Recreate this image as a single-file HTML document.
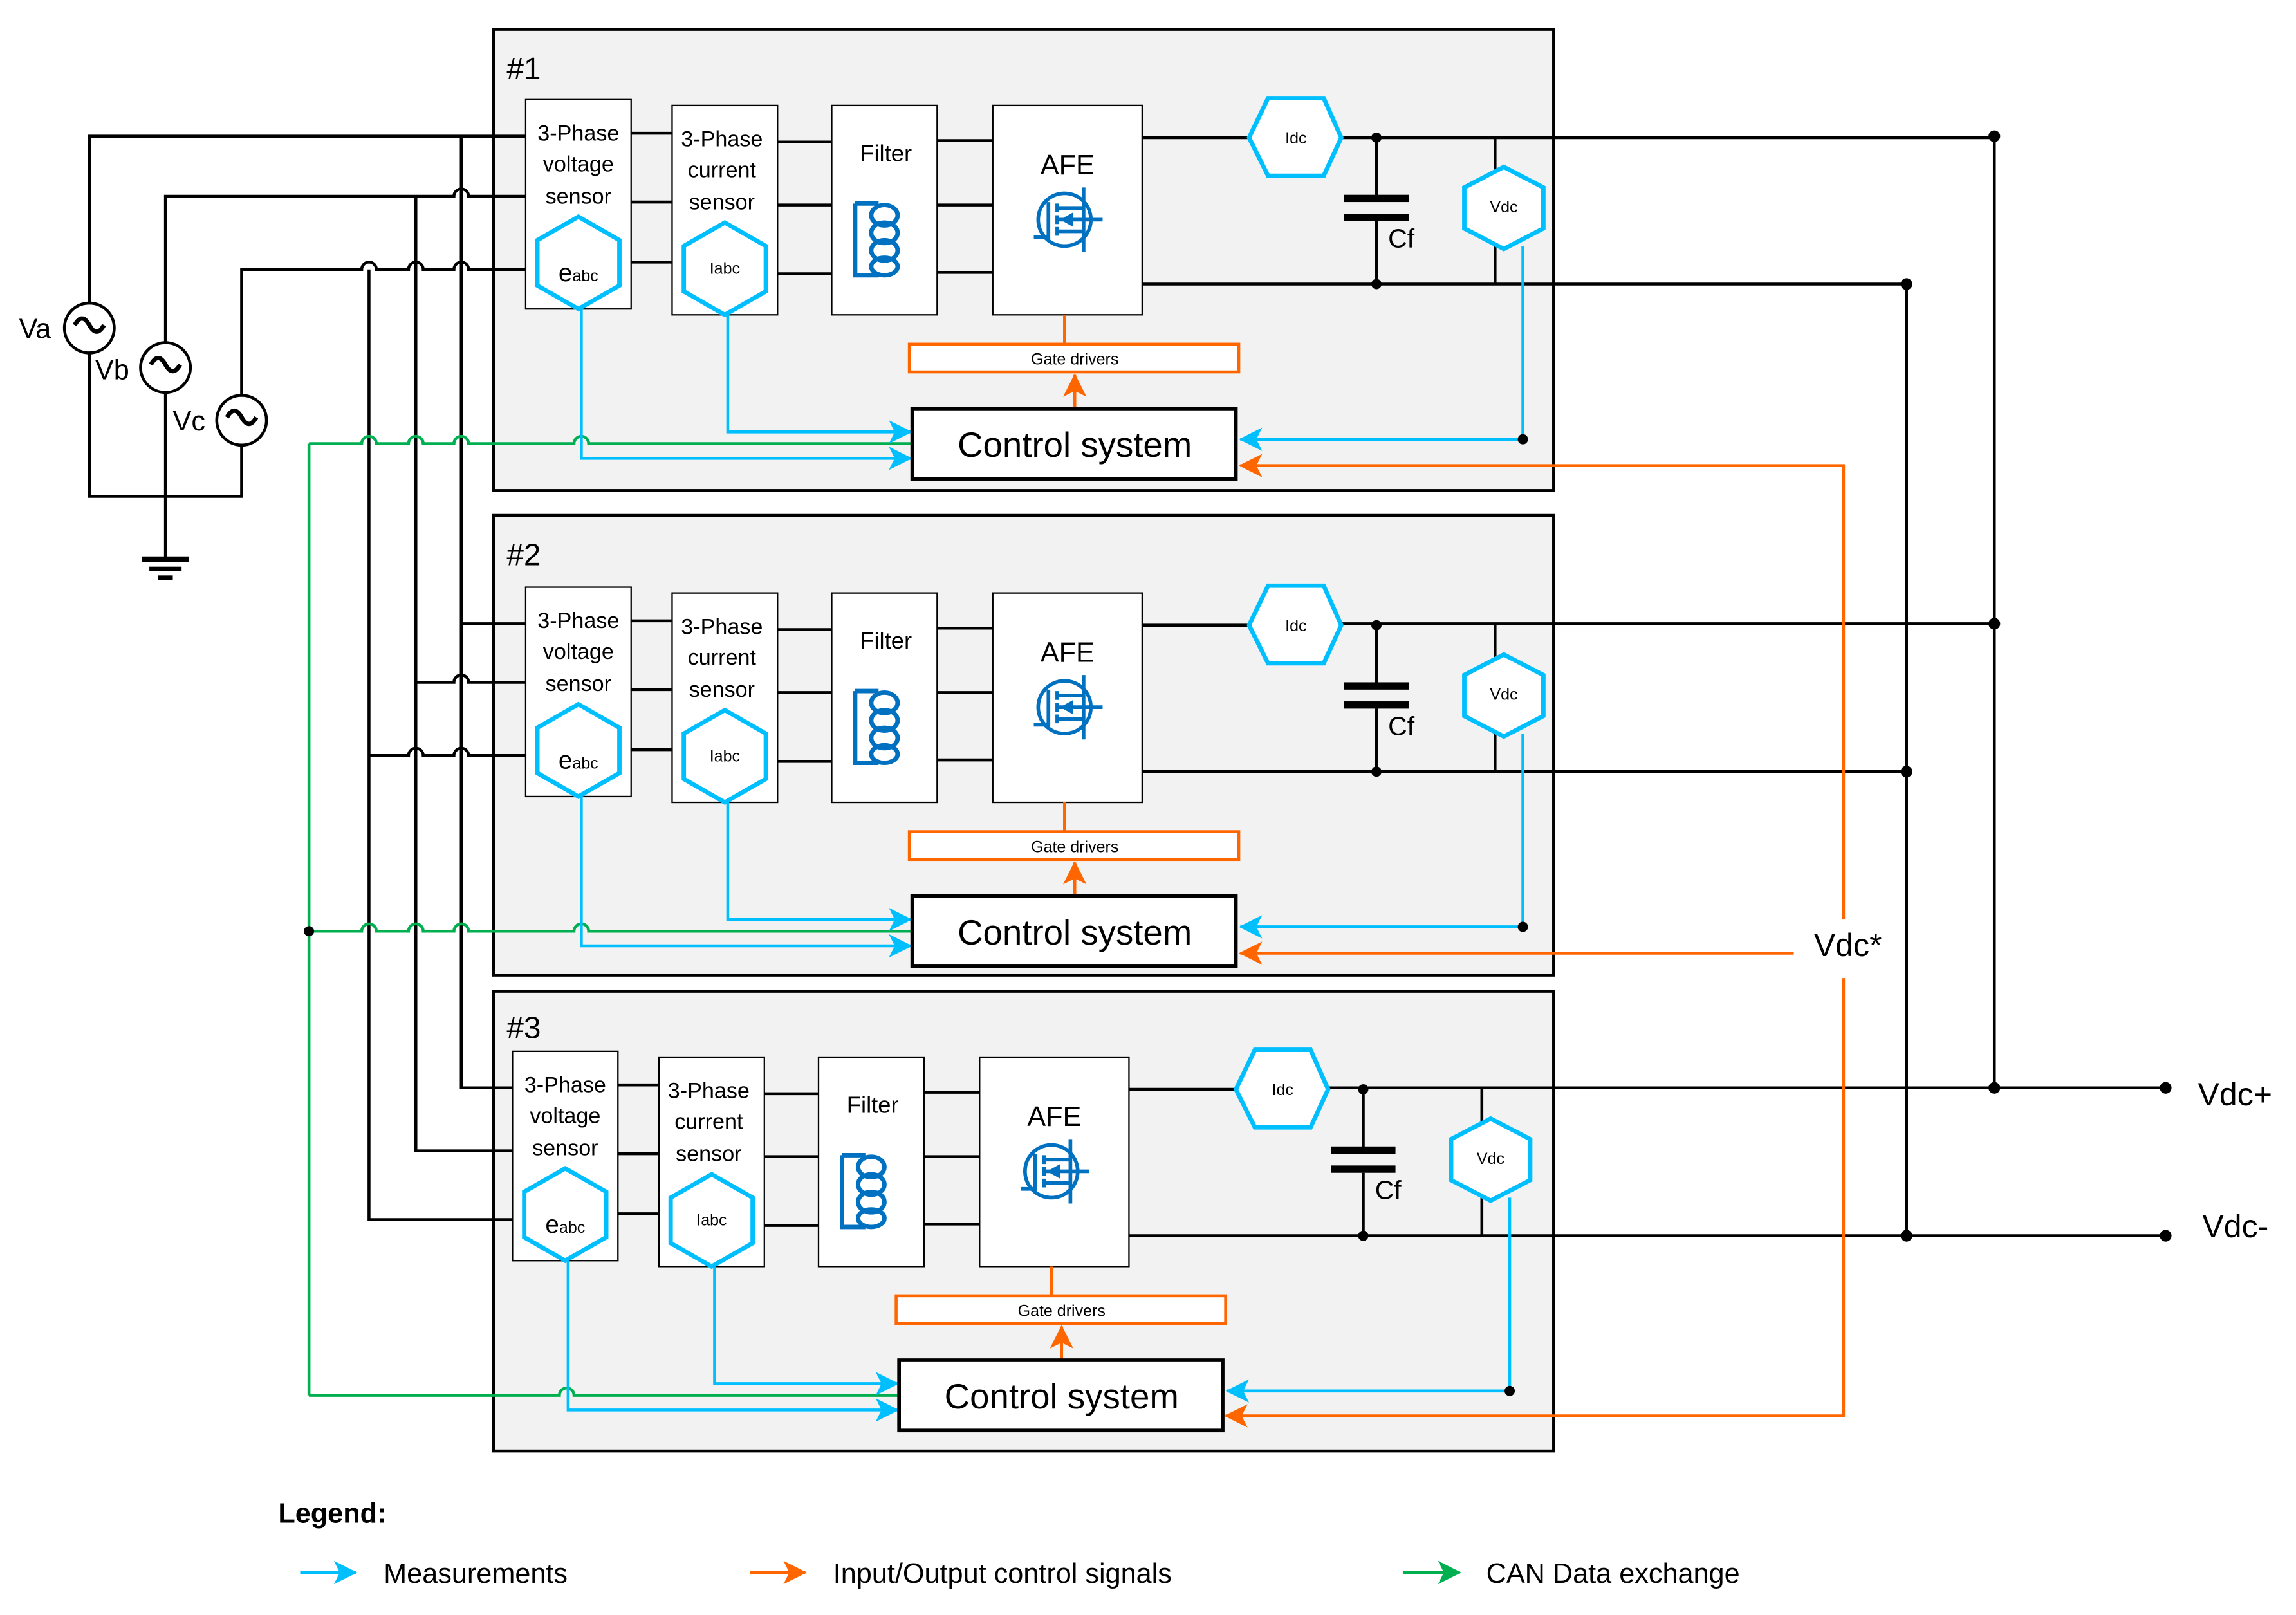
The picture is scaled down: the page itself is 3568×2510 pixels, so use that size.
<!DOCTYPE html>
<html><head><meta charset="utf-8"><style>
html,body{margin:0;padding:0;background:#fff;}
svg{display:block;}
text{font-family:"Liberation Sans",sans-serif;fill:#000;}
</style></head><body>
<svg width="3568" height="2510" viewBox="0 0 1568 1103" xmlns="http://www.w3.org/2000/svg">
<defs>
<marker id="ab" markerWidth="16" markerHeight="16" refX="15" refY="8" orient="auto" markerUnits="userSpaceOnUse"><path d="M0,0 L16,8 L0,16 L4,8 z" fill="#00bfff"/></marker>
<marker id="ao" markerWidth="16" markerHeight="16" refX="15" refY="8" orient="auto" markerUnits="userSpaceOnUse"><path d="M0,0 L16,8 L0,16 L4,8 z" fill="#ff6600"/></marker>
<marker id="ag" markerWidth="16" markerHeight="16" refX="15" refY="8" orient="auto" markerUnits="userSpaceOnUse"><path d="M0,0 L16,8 L0,16 L4,8 z" fill="#00b050"/></marker>
</defs>

<rect x="337" y="20" width="724" height="315" fill="#f2f2f2" stroke="#000" stroke-width="2"/>
<rect x="337" y="352" width="724" height="314" fill="#f2f2f2" stroke="#000" stroke-width="2"/>
<rect x="337" y="677" width="724" height="314" fill="#f2f2f2" stroke="#000" stroke-width="2"/>
<text x="346" y="54" font-size="21">#1</text>
<text x="346" y="386" font-size="21">#2</text>
<text x="346" y="709" font-size="21">#3</text>

<g stroke="#000" stroke-width="2" fill="none">
<path d="M61 207 V93 H359"/>
<path d="M113 234 V134 H310 A5 5 0 0 1 320 134 H359"/>
<path d="M165 270 V184 H247 A5 5 0 0 1 257 184 H279 A5 5 0 0 1 289 184 H310 A5 5 0 0 1 320 184 H359"/>
<path d="M61 241 V339 H165 V304"/>
<path d="M113 268 V381"/>
<circle cx="61" cy="224" r="17"/><circle cx="113" cy="251" r="17"/><circle cx="165" cy="287" r="17"/>
<path d="M51 222 q5 -9 10 0 t10 0" stroke-width="3"/>
<path d="M103 249 q5 -9 10 0 t10 0" stroke-width="3"/>
<path d="M155 285 q5 -9 10 0 t10 0" stroke-width="3"/>
<path d="M315 93 V743 H350"/>
<path d="M284 134 V786 H350"/>
<path d="M252 184 V833 H350"/>
<path d="M315 426 H359"/>
<path d="M284 466 H310 A5 5 0 0 1 320 466 H359"/>
<path d="M252 516 H279 A5 5 0 0 1 289 516 H310 A5 5 0 0 1 320 516 H359"/>
</g>
<rect x="97" y="380" width="32" height="4" fill="#000"/>
<rect x="102" y="387" width="22" height="3" fill="#000"/>
<rect x="108" y="393" width="10" height="3" fill="#000"/>
<text x="13" y="231" font-size="19">Va</text>
<text x="65" y="259" font-size="19">Vb</text>
<text x="118" y="294" font-size="19">Vc</text>

<g stroke="#00b050" stroke-width="2" fill="none">
<path d="M211 303 V953"/>
<path d="M211 303 H247 A5 5 0 0 1 257 303 H279 A5 5 0 0 1 289 303 H310 A5 5 0 0 1 320 303 H392 A5 5 0 0 1 402 303 H622"/>
<path d="M211 636 H247 A5 5 0 0 1 257 636 H279 A5 5 0 0 1 289 636 H310 A5 5 0 0 1 320 636 H392 A5 5 0 0 1 402 636 H622"/>
<path d="M211 953 H382 A5 5 0 0 1 392 953 H613"/>
</g>
<circle cx="211" cy="636" r="3.5" fill="#000"/>

<g stroke="#000" stroke-width="2" fill="none">
<path d="M916 94 H1362"/><path d="M780 194 H1302"/>
<path d="M916 426 H1362"/><path d="M780 527 H1302"/>
<path d="M907 743 H1479"/><path d="M771 844 H1479"/>
<path d="M1362 93 V743"/><path d="M1302 194 V844"/>
</g>
<g fill="#000">
<circle cx="1362" cy="93" r="4"/><circle cx="1302" cy="194" r="4"/>
<circle cx="1362" cy="426" r="4"/><circle cx="1302" cy="527" r="4"/>
<circle cx="1362" cy="743" r="4"/><circle cx="1302" cy="844" r="4"/>
<circle cx="1479" cy="743" r="4"/><circle cx="1479" cy="844" r="4"/>
</g>
<text x="1501" y="755" font-size="22">Vdc+</text>
<text x="1504" y="845" font-size="22">Vdc-</text>

<g stroke="#ff6600" stroke-width="2" fill="none">
<path d="M1259 628 V318 H847" marker-end="url(#ao)"/>
<path d="M1259 668 V967 H837" marker-end="url(#ao)"/>
<path d="M1225 651 H847" marker-end="url(#ao)"/>
</g>
<text x="1262" y="653" font-size="22" text-anchor="middle">Vdc*</text>

<g>
<rect x="359" y="68" width="72" height="143" fill="#fff" stroke="#000"/>
<text x="395" y="96" font-size="15" text-anchor="middle">3-Phase</text>
<text x="395" y="117" font-size="15" text-anchor="middle">voltage</text>
<text x="395" y="139" font-size="15" text-anchor="middle">sensor</text>
<polygon points="395,148 423,164 423,195 395,211 367,195 367,164" fill="#fff" stroke="#00bfff" stroke-width="3"/>
<text x="395" y="192" font-size="17" text-anchor="middle">e<tspan font-size="11">abc</tspan></text>
<rect x="459" y="72" width="72" height="143" fill="#fff" stroke="#000"/>
<text x="493" y="100" font-size="15" text-anchor="middle">3-Phase</text>
<text x="493" y="121" font-size="15" text-anchor="middle">current</text>
<text x="493" y="143" font-size="15" text-anchor="middle">sensor</text>
<polygon points="495,152 523,168 523,199 495,215 467,199 467,168" fill="#fff" stroke="#00bfff" stroke-width="3"/>
<text x="495" y="187" font-size="11" text-anchor="middle">Iabc</text>
<rect x="568" y="72" width="72" height="143" fill="#fff" stroke="#000"/>
<text x="605" y="110" font-size="16" text-anchor="middle">Filter</text>
<g stroke="#0070c0" stroke-width="3" fill="none">
<path d="M584 139 H600 M584 139 V188 H600"/>
<ellipse cx="604" cy="147" rx="9" ry="7"/><ellipse cx="604" cy="159" rx="9" ry="7"/>
<ellipse cx="604" cy="171" rx="9" ry="7"/><ellipse cx="604" cy="182" rx="9" ry="6"/>
</g>
<rect x="678" y="72" width="102" height="143" fill="#fff" stroke="#000"/>
<text x="729" y="119" font-size="19" text-anchor="middle">AFE</text>
<g stroke="#0070c0" stroke-width="2.5" fill="none">
<circle cx="727" cy="150" r="18"/>
<path d="M740 128 V172 M716 138 V162 H706 M722 139 V145 M722 147 V153 M722 155 V161 M722 142 H740 M722 158 H740 M722 150 H753"/>
</g>
<path d="M724 150 L733 145 L733 155 z" fill="#0070c0"/>
<g stroke="#000" stroke-width="2">
<path d="M431 91 H459 M431 138 H459 M431 179 H459"/>
<path d="M531 97 H568 M531 140 H568 M531 187 H568"/>
<path d="M640 96 H678 M640 140 H678 M640 186 H678"/>
<path d="M780 94 H853"/>
<path d="M940 94 V134 M940 151 V194"/>
<path d="M1021 94 V117 M1021 167 V194"/>
</g>
<rect x="918" y="133" width="44" height="5" fill="#000"/>
<rect x="918" y="146" width="44" height="5" fill="#000"/>
<text x="948" y="169" font-size="18">Cf</text>
<circle cx="940" cy="94" r="3.5" fill="#000"/><circle cx="940" cy="194" r="3.5" fill="#000"/>
<polygon points="853,94 866,67 904,67 916,94 904,120 866,120" fill="#fff" stroke="#00bfff" stroke-width="3"/>
<text x="885" y="98" font-size="11" text-anchor="middle">Idc</text>
<polygon points="1027,114 1054,128 1054,156 1027,170 1000,156 1000,128" fill="#fff" stroke="#00bfff" stroke-width="3"/>
<text x="1027" y="145" font-size="11" text-anchor="middle">Vdc</text>
<path d="M727 215 V235" stroke="#ff6600" stroke-width="2"/>
<rect x="621" y="235" width="225" height="19" fill="#fff" stroke="#ff6600" stroke-width="2"/>
<text x="734" y="249" font-size="11" text-anchor="middle">Gate drivers</text>
<path d="M734 279 V256" stroke="#ff6600" stroke-width="2" marker-end="url(#ao)"/>
<g stroke="#00bfff" stroke-width="2" fill="none">
<path d="M1040 168 V300 H847" marker-end="url(#ab)"/>
<path d="M397 211 V313 H622" marker-end="url(#ab)"/>
<path d="M497 215 V295 H622" marker-end="url(#ab)"/>
</g>
<circle cx="1040" cy="300" r="3.5" fill="#000"/>
<rect x="623" y="279" width="221" height="48" fill="#fff" stroke="#000" stroke-width="2.5"/>
<text x="734" y="312" font-size="24" text-anchor="middle">Control system</text>
</g>

<g transform="translate(0,333)">
<rect x="359" y="68" width="72" height="143" fill="#fff" stroke="#000"/>
<text x="395" y="96" font-size="15" text-anchor="middle">3-Phase</text>
<text x="395" y="117" font-size="15" text-anchor="middle">voltage</text>
<text x="395" y="139" font-size="15" text-anchor="middle">sensor</text>
<polygon points="395,148 423,164 423,195 395,211 367,195 367,164" fill="#fff" stroke="#00bfff" stroke-width="3"/>
<text x="395" y="192" font-size="17" text-anchor="middle">e<tspan font-size="11">abc</tspan></text>
<rect x="459" y="72" width="72" height="143" fill="#fff" stroke="#000"/>
<text x="493" y="100" font-size="15" text-anchor="middle">3-Phase</text>
<text x="493" y="121" font-size="15" text-anchor="middle">current</text>
<text x="493" y="143" font-size="15" text-anchor="middle">sensor</text>
<polygon points="495,152 523,168 523,199 495,215 467,199 467,168" fill="#fff" stroke="#00bfff" stroke-width="3"/>
<text x="495" y="187" font-size="11" text-anchor="middle">Iabc</text>
<rect x="568" y="72" width="72" height="143" fill="#fff" stroke="#000"/>
<text x="605" y="110" font-size="16" text-anchor="middle">Filter</text>
<g stroke="#0070c0" stroke-width="3" fill="none">
<path d="M584 139 H600 M584 139 V188 H600"/>
<ellipse cx="604" cy="147" rx="9" ry="7"/><ellipse cx="604" cy="159" rx="9" ry="7"/>
<ellipse cx="604" cy="171" rx="9" ry="7"/><ellipse cx="604" cy="182" rx="9" ry="6"/>
</g>
<rect x="678" y="72" width="102" height="143" fill="#fff" stroke="#000"/>
<text x="729" y="119" font-size="19" text-anchor="middle">AFE</text>
<g stroke="#0070c0" stroke-width="2.5" fill="none">
<circle cx="727" cy="150" r="18"/>
<path d="M740 128 V172 M716 138 V162 H706 M722 139 V145 M722 147 V153 M722 155 V161 M722 142 H740 M722 158 H740 M722 150 H753"/>
</g>
<path d="M724 150 L733 145 L733 155 z" fill="#0070c0"/>
<g stroke="#000" stroke-width="2">
<path d="M431 91 H459 M431 138 H459 M431 179 H459"/>
<path d="M531 97 H568 M531 140 H568 M531 187 H568"/>
<path d="M640 96 H678 M640 140 H678 M640 186 H678"/>
<path d="M780 94 H853"/>
<path d="M940 94 V134 M940 151 V194"/>
<path d="M1021 94 V117 M1021 167 V194"/>
</g>
<rect x="918" y="133" width="44" height="5" fill="#000"/>
<rect x="918" y="146" width="44" height="5" fill="#000"/>
<text x="948" y="169" font-size="18">Cf</text>
<circle cx="940" cy="94" r="3.5" fill="#000"/><circle cx="940" cy="194" r="3.5" fill="#000"/>
<polygon points="853,94 866,67 904,67 916,94 904,120 866,120" fill="#fff" stroke="#00bfff" stroke-width="3"/>
<text x="885" y="98" font-size="11" text-anchor="middle">Idc</text>
<polygon points="1027,114 1054,128 1054,156 1027,170 1000,156 1000,128" fill="#fff" stroke="#00bfff" stroke-width="3"/>
<text x="1027" y="145" font-size="11" text-anchor="middle">Vdc</text>
<path d="M727 215 V235" stroke="#ff6600" stroke-width="2"/>
<rect x="621" y="235" width="225" height="19" fill="#fff" stroke="#ff6600" stroke-width="2"/>
<text x="734" y="249" font-size="11" text-anchor="middle">Gate drivers</text>
<path d="M734 279 V256" stroke="#ff6600" stroke-width="2" marker-end="url(#ao)"/>
<g stroke="#00bfff" stroke-width="2" fill="none">
<path d="M1040 168 V300 H847" marker-end="url(#ab)"/>
<path d="M397 211 V313 H622" marker-end="url(#ab)"/>
<path d="M497 215 V295 H622" marker-end="url(#ab)"/>
</g>
<circle cx="1040" cy="300" r="3.5" fill="#000"/>
<rect x="623" y="279" width="221" height="48" fill="#fff" stroke="#000" stroke-width="2.5"/>
<text x="734" y="312" font-size="24" text-anchor="middle">Control system</text>
</g>

<g transform="translate(-9,650)">
<rect x="359" y="68" width="72" height="143" fill="#fff" stroke="#000"/>
<text x="395" y="96" font-size="15" text-anchor="middle">3-Phase</text>
<text x="395" y="117" font-size="15" text-anchor="middle">voltage</text>
<text x="395" y="139" font-size="15" text-anchor="middle">sensor</text>
<polygon points="395,148 423,164 423,195 395,211 367,195 367,164" fill="#fff" stroke="#00bfff" stroke-width="3"/>
<text x="395" y="192" font-size="17" text-anchor="middle">e<tspan font-size="11">abc</tspan></text>
<rect x="459" y="72" width="72" height="143" fill="#fff" stroke="#000"/>
<text x="493" y="100" font-size="15" text-anchor="middle">3-Phase</text>
<text x="493" y="121" font-size="15" text-anchor="middle">current</text>
<text x="493" y="143" font-size="15" text-anchor="middle">sensor</text>
<polygon points="495,152 523,168 523,199 495,215 467,199 467,168" fill="#fff" stroke="#00bfff" stroke-width="3"/>
<text x="495" y="187" font-size="11" text-anchor="middle">Iabc</text>
<rect x="568" y="72" width="72" height="143" fill="#fff" stroke="#000"/>
<text x="605" y="110" font-size="16" text-anchor="middle">Filter</text>
<g stroke="#0070c0" stroke-width="3" fill="none">
<path d="M584 139 H600 M584 139 V188 H600"/>
<ellipse cx="604" cy="147" rx="9" ry="7"/><ellipse cx="604" cy="159" rx="9" ry="7"/>
<ellipse cx="604" cy="171" rx="9" ry="7"/><ellipse cx="604" cy="182" rx="9" ry="6"/>
</g>
<rect x="678" y="72" width="102" height="143" fill="#fff" stroke="#000"/>
<text x="729" y="119" font-size="19" text-anchor="middle">AFE</text>
<g stroke="#0070c0" stroke-width="2.5" fill="none">
<circle cx="727" cy="150" r="18"/>
<path d="M740 128 V172 M716 138 V162 H706 M722 139 V145 M722 147 V153 M722 155 V161 M722 142 H740 M722 158 H740 M722 150 H753"/>
</g>
<path d="M724 150 L733 145 L733 155 z" fill="#0070c0"/>
<g stroke="#000" stroke-width="2">
<path d="M431 91 H459 M431 138 H459 M431 179 H459"/>
<path d="M531 97 H568 M531 140 H568 M531 187 H568"/>
<path d="M640 96 H678 M640 140 H678 M640 186 H678"/>
<path d="M780 94 H853"/>
<path d="M940 94 V134 M940 151 V194"/>
<path d="M1021 94 V117 M1021 167 V194"/>
</g>
<rect x="918" y="133" width="44" height="5" fill="#000"/>
<rect x="918" y="146" width="44" height="5" fill="#000"/>
<text x="948" y="169" font-size="18">Cf</text>
<circle cx="940" cy="94" r="3.5" fill="#000"/><circle cx="940" cy="194" r="3.5" fill="#000"/>
<polygon points="853,94 866,67 904,67 916,94 904,120 866,120" fill="#fff" stroke="#00bfff" stroke-width="3"/>
<text x="885" y="98" font-size="11" text-anchor="middle">Idc</text>
<polygon points="1027,114 1054,128 1054,156 1027,170 1000,156 1000,128" fill="#fff" stroke="#00bfff" stroke-width="3"/>
<text x="1027" y="145" font-size="11" text-anchor="middle">Vdc</text>
<path d="M727 215 V235" stroke="#ff6600" stroke-width="2"/>
<rect x="621" y="235" width="225" height="19" fill="#fff" stroke="#ff6600" stroke-width="2"/>
<text x="734" y="249" font-size="11" text-anchor="middle">Gate drivers</text>
<path d="M734 279 V256" stroke="#ff6600" stroke-width="2" marker-end="url(#ao)"/>
<g stroke="#00bfff" stroke-width="2" fill="none">
<path d="M1040 168 V300 H847" marker-end="url(#ab)"/>
<path d="M397 211 V313 H622" marker-end="url(#ab)"/>
<path d="M497 215 V295 H622" marker-end="url(#ab)"/>
</g>
<circle cx="1040" cy="300" r="3.5" fill="#000"/>
<rect x="623" y="279" width="221" height="48" fill="#fff" stroke="#000" stroke-width="2.5"/>
<text x="734" y="312" font-size="24" text-anchor="middle">Control system</text>
</g>

<text x="190" y="1040" font-size="19" font-weight="bold">Legend:</text>
<path d="M205 1074 H243" stroke="#00bfff" stroke-width="2" marker-end="url(#ab)"/>
<text x="262" y="1081" font-size="19">Measurements</text>
<path d="M512 1074 H550" stroke="#ff6600" stroke-width="2" marker-end="url(#ao)"/>
<text x="569" y="1081" font-size="19">Input/Output control signals</text>
<path d="M958 1074 H997" stroke="#00b050" stroke-width="2" marker-end="url(#ag)"/>
<text x="1015" y="1081" font-size="19">CAN Data exchange</text>
</svg>
</body></html>
